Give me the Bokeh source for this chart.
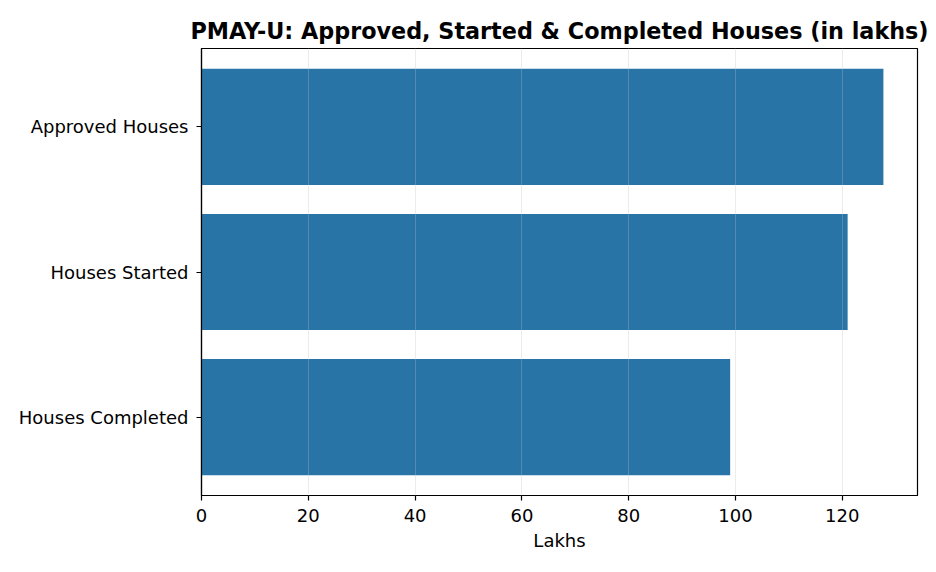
from bokeh.plotting import figure
from bokeh.models import Range1d, FactorRange, SingleIntervalTicker
from bokeh.embed import file_html
from bokeh.resources import INLINE

categories = ["Houses Completed", "Houses Started", "Approved Houses"]
values = [99.0, 121.0, 127.7]
title_text = "PMAY-U: Approved, Started & Completed Houses (in lakhs)"
x_label = "Lakhs"

FONT = "DejaVu Sans"
BAR = "#2874A6"

p = figure(
    width=936, height=572,
    y_range=FactorRange(factors=categories, range_padding=0.04, range_padding_units="absolute"),
    x_range=Range1d(0, max(values) * 1.05),
    output_backend="svg", toolbar_location=None,
    min_border_left=201, min_border_right=19, min_border_top=48, min_border_bottom=77,
)
p.hbar(y=categories, right=values, left=0, height=0.8, fill_color=BAR, line_color=None)

p.title.text = title_text
p.title.align = "center"
p.title.text_font = FONT
p.title.text_font_size = "22.3px"
p.title.text_font_style = "bold"
p.title.text_color = "black"

p.outline_line_color = "black"
p.outline_line_width = 1.2
p.outline_line_alpha = 1

p.ygrid.grid_line_color = None
p.xgrid.grid_line_color = "#c0c0c0"
p.xgrid.grid_line_alpha = 0.3
p.xgrid.level = "overlay"

p.xaxis.ticker = SingleIntervalTicker(interval=20, num_minor_ticks=0)
p.xaxis.axis_label = x_label
for ax in (p.xaxis, p.yaxis):
    ax.axis_line_color = "black"
    ax.axis_line_width = 1.2
    ax.major_tick_line_color = "black"
    ax.major_tick_line_width = 1.2
    ax.major_tick_in = 0
    ax.major_tick_out = 5
    ax.minor_tick_line_color = None
    ax.major_label_text_font = FONT
    ax.major_label_text_font_size = "18px"
    ax.major_label_text_color = "black"
    ax.axis_label_text_font = FONT
    ax.axis_label_text_font_size = "18px"
    ax.axis_label_text_font_style = "normal"
    ax.axis_label_text_color = "black"
p.xaxis.major_label_standoff = 8
p.yaxis.major_label_standoff = 8
p.xaxis.axis_label_standoff = 5

open("out.html", "w").write(file_html(p, INLINE))
